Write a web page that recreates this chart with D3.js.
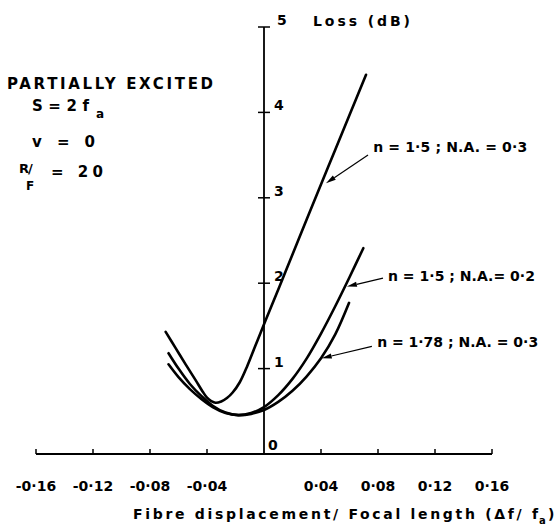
<!DOCTYPE html>
<html>
<head>
<meta charset="utf-8">
<script src="https://cdn.jsdelivr.net/npm/d3@7/dist/d3.min.js"></script>
<style>
  html, body { margin: 0; padding: 0; background: #fff; }
  svg { display: block; }
  text { font-family: "DejaVu Sans", sans-serif; font-weight: bold; fill: #000; }
</style>
</head>
<body>
<svg id="chart" width="558" height="525"></svg>
<script>
// ---- data ----
const xTicks = [-0.16, -0.12, -0.08, -0.04, 0.04, 0.08, 0.12, 0.16];
const xTickLabels = ["-0·16", "-0·12", "-0·08", "-0·04", "0·04", "0·08", "0·12", "0·16"];
const yTicks = [0, 1, 2, 3, 4, 5];
const yTickLabels = ["0", "1", "2", "3", "4", "5"];

const seriesNames = ["n = 1·5 ; N.A. = 0·3", "n = 1·5 ; N.A.= 0·2", "n = 1·78 ; N.A. = 0·3"];

// n = 1.5 ; N.A. = 0.3
const xA = [-0.069, -0.062, -0.055, -0.048, -0.043, -0.040, -0.037, -0.034, -0.030, -0.026, -0.022, -0.017, -0.012, -0.006, 0.001, 0.015, 0.030, 0.045, 0.060, 0.0716];
const yA = [1.43, 1.24, 1.05, 0.865, 0.73, 0.66, 0.62, 0.60, 0.615, 0.655, 0.72, 0.84, 1.02, 1.27, 1.56, 2.13, 2.75, 3.36, 3.97, 4.44];

// n = 1.5 ; N.A. = 0.2
const xB = [-0.067, -0.060, -0.052, -0.044, -0.036, -0.027, -0.018, -0.009, 0.000, 0.010, 0.020, 0.030, 0.040, 0.050, 0.060, 0.0697];
const yB = [1.18, 1.00, 0.82, 0.68, 0.565, 0.485, 0.455, 0.48, 0.55, 0.69, 0.88, 1.12, 1.41, 1.73, 2.07, 2.41];

// n = 1.78 ; N.A. = 0.3
const xC = [-0.067, -0.060, -0.052, -0.044, -0.036, -0.027, -0.018, -0.009, 0.000, 0.010, 0.020, 0.030, 0.040, 0.050, 0.0597];
const yC = [1.05, 0.90, 0.76, 0.645, 0.55, 0.48, 0.455, 0.47, 0.515, 0.61, 0.74, 0.91, 1.12, 1.40, 1.77];

// annotation arrows (data units): tail x, tail y, tip x, tip y
const arrowTailX = [0.0730, 0.0835, 0.0757];
const arrowTailY = [3.50, 2.06, 1.26];
const arrowTipX = [0.0435, 0.0582, 0.0405];
const arrowTipY = [3.17, 1.96, 1.12];
// annotation label anchor (data units, left baseline)
const labelX = [0.0766, 0.0870, 0.0794];
const labelY = [3.535, 2.025, 1.255];
const labelW = [154, 147, 161];

// ---- drawing ----
const svg = d3.select("#chart");
const x = d3.scaleLinear().domain([-0.16, 0.16]).range([36, 492]);
const y = d3.scaleLinear().domain([0, 5]).range([454, 27]);

const line = d3.line()
  .x(d => x(d[0])).y(d => y(d[1]))
  .curve(d3.curveCatmullRom.alpha(0.5));

// x axis
const gx = svg.append("g");
gx.append("line")
  .attr("x1", x(-0.16)).attr("x2", x(0.16))
  .attr("y1", y(0)).attr("y2", y(0))
  .attr("stroke", "#000").attr("stroke-width", 1.8);
gx.selectAll("line.tick").data(xTicks).enter().append("line")
  .attr("class", "tick")
  .attr("x1", d => x(d)).attr("x2", d => x(d))
  .attr("y1", y(0)).attr("y2", y(0) - 5)
  .attr("stroke", "#000").attr("stroke-width", 1.5);
gx.selectAll("text").data(xTicks).enter().append("text")
  .attr("x", d => x(d)).attr("y", y(0) + 37)
  .attr("text-anchor", "middle")
  .attr("font-size", 14)
  .text((d, i) => xTickLabels[i]);

// y axis
const gy = svg.append("g");
gy.append("line")
  .attr("x1", x(0)).attr("x2", x(0))
  .attr("y1", y(0)).attr("y2", y(5))
  .attr("stroke", "#000").attr("stroke-width", 1.8);
gy.selectAll("line.tick").data(yTicks.filter(d => d > 0)).enter().append("line")
  .attr("class", "tick")
  .attr("x1", x(0) - 6).attr("x2", x(0) + 6)
  .attr("y1", d => y(d)).attr("y2", d => y(d))
  .attr("stroke", "#000").attr("stroke-width", 1.5);
gy.selectAll("text").data(yTicks).enter().append("text")
  .attr("x", d => x(0) + (d === 0 ? 4 : d === 5 ? 13 : 10))
  .attr("y", d => y(d) - (d === 0 ? 4 : 2))
  .attr("font-size", 14)
  .text((d, i) => yTickLabels[i]);

svg.append("text")
  .attr("x", 313).attr("y", 26)
  .attr("font-size", 14)
  .attr("textLength", 97).attr("lengthAdjust", "spacing")
  .text("Loss (dB)");

// axis title
svg.append("text").attr("x", 133).attr("y", 519).attr("font-size", 14)
  .attr("textLength", 405).attr("lengthAdjust", "spacing")
  .text("Fibre displacement/ Focal length (Δf/ f");
svg.append("text").attr("x", 539).attr("y", 524).attr("font-size", 10).text("a");
svg.append("text").attr("x", 548).attr("y", 519).attr("font-size", 14).text(")");

// curves
const series = [
  xA.map((v, i) => [v, yA[i]]),
  xB.map((v, i) => [v, yB[i]]),
  xC.map((v, i) => [v, yC[i]])
];
svg.selectAll("path.curve").data(series).enter().append("path")
  .attr("class", "curve")
  .attr("d", line)
  .attr("fill", "none")
  .attr("stroke", "#000")
  .attr("stroke-width", 2.6)
  .attr("stroke-linecap", "round");

// annotations
const ann = svg.append("g");
seriesNames.forEach((name, i) => {
  const x1 = x(arrowTailX[i]), y1 = y(arrowTailY[i]);
  const x2 = x(arrowTipX[i]), y2 = y(arrowTipY[i]);
  const ang = Math.atan2(y2 - y1, x2 - x1);
  const L = 10, W = 2.6;
  const bx = x2 - L * Math.cos(ang), by = y2 - L * Math.sin(ang);
  ann.append("line")
    .attr("x1", x1).attr("y1", y1).attr("x2", bx).attr("y2", by)
    .attr("stroke", "#000").attr("stroke-width", 1.2);
  ann.append("path")
    .attr("d", `M${x2},${y2}L${bx - W * Math.sin(ang)},${by + W * Math.cos(ang)}L${bx + W * Math.sin(ang)},${by - W * Math.cos(ang)}Z`)
    .attr("fill", "#000");
  ann.append("text")
    .attr("x", x(labelX[i])).attr("y", y(labelY[i]))
    .attr("font-size", 14)
    .attr("textLength", labelW[i]).attr("lengthAdjust", "spacing")
    .text(name);
});

// parameter block
const pb = svg.append("g");
pb.append("text").attr("x", 7).attr("y", 89).attr("font-size", 15)
  .attr("textLength", 206).attr("lengthAdjust", "spacing")
  .text("PARTIALLY EXCITED");
pb.append("text").attr("x", 32).attr("y", 111).attr("font-size", 15)
  .attr("textLength", 57).attr("lengthAdjust", "spacing")
  .text("S =  2  f");
pb.append("text").attr("x", 96).attr("y", 118).attr("font-size", 12).text("a");
pb.append("text").attr("x", 32).attr("y", 147).attr("font-size", 15)
  .attr("textLength", 63).attr("lengthAdjust", "spacing")
  .text("v =  0");
pb.append("text").attr("x", 19).attr("y", 173).attr("font-size", 13)
  .attr("letter-spacing", -1).text("R/");
pb.append("text").attr("x", 26).attr("y", 190).attr("font-size", 12).text("F");
pb.append("text").attr("x", 51).attr("y", 177).attr("font-size", 15)
  .attr("textLength", 52).attr("lengthAdjust", "spacing")
  .text("=  20");
</script>
</body>
</html>
